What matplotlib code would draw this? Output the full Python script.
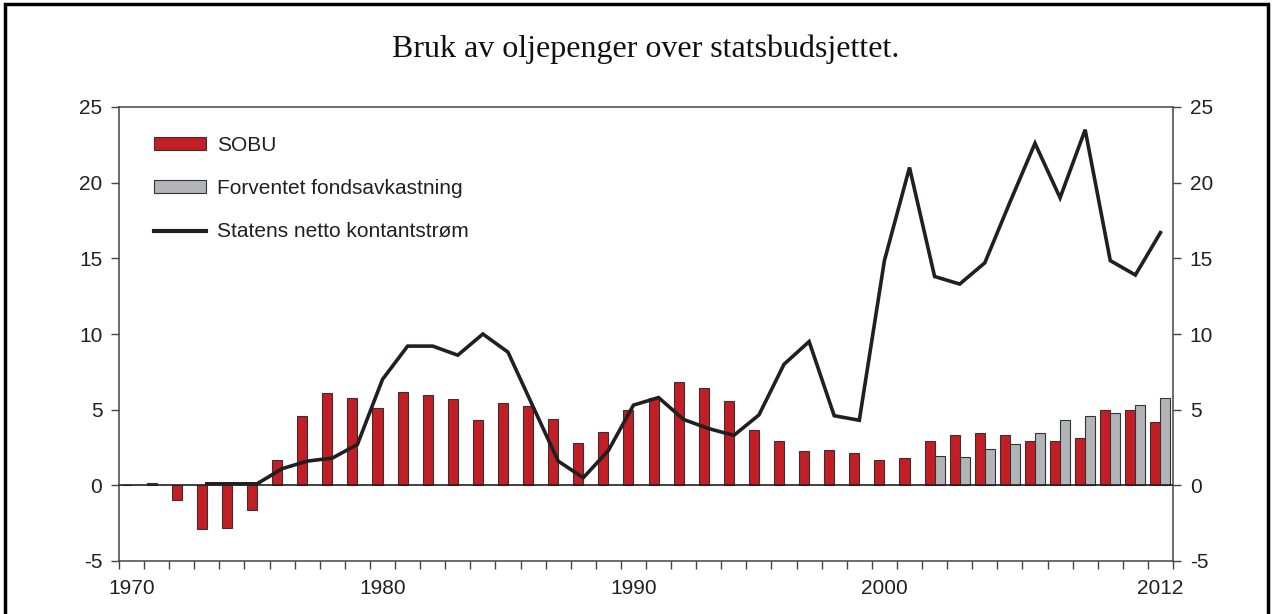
import matplotlib
matplotlib.use('Agg')
import matplotlib.pyplot as plt
import numpy as np
from matplotlib.patches import Rectangle, Patch
from matplotlib.lines import Line2D

plt.rcParams['font.family'] = ['Liberation Sans', 'DejaVu Sans']
plt.rcParams['axes.unicode_minus'] = False  # vanlig bindestrek som minus

# data: 1970-2011 (one bin per year), mrd. kr / prosent av BNP
years = list(range(1970, 2012))
tick_labels = ['1970', '1980', '1990', '2000', '2012']
tick_years = [1970, 1980, 1990, 2000, 2011]

sobu = [0.05, 0.15, -1.0, -2.9, -2.8, -1.6, 1.7, 4.6, 6.1, 5.8,
        5.1, 6.2, 6.0, 5.7, 4.3, 5.45, 5.25, 4.4, 2.8, 3.55,
        5.0, 5.75, 6.85, 6.45, 5.55, 3.65, 2.95, 2.25, 2.35, 2.15,
        1.65, 1.8, 2.95, 3.35, 3.45, 3.35, 2.95, 2.9, 3.15, 4.95,
        5.0, 4.2]
fond = [None] * 32 + [1.95, 1.85, 2.4, 2.7, 3.45, 4.3, 4.6, 4.8, 5.3, 5.8]
kontant = [None, None, None, 0.1, 0.1, 0.1, 1.1, 1.6, 1.8, 2.7,
           7.0, 9.2, 9.2, 8.6, 10.0, 8.8, 5.2, 1.6, 0.5, 2.3,
           5.3, 5.8, 4.35, 3.75, 3.3, 4.65, 8.0, 9.5, 4.6, 4.3,
           14.85, 21.0, 13.8, 13.3, 14.7, 18.7, 22.6, 19.0, 23.5, 14.85,
           13.9, 16.7]

red = '#C31E26'
grey = '#B3B4B8'
edge = '#333333'
dark = '#231F20'

x = np.arange(len(years))

fig = plt.figure(figsize=(12.75, 6.14), dpi=100)
ax = fig.add_axes([119 / 1275, 1 - 561 / 614, (1173 - 119) / 1275, (561 - 107) / 614])

ax.bar(x - 0.2, sobu, width=0.4, color=red, edgecolor=edge, linewidth=0.8, zorder=2)
fx = [i for i, v in enumerate(fond) if v is not None]
ax.bar(np.array(fx) + 0.2, [fond[i] for i in fx], width=0.4, color=grey,
       edgecolor=edge, linewidth=0.8, zorder=2)
ax.axhline(0, color=dark, lw=1.2, zorder=3)

kx = [i for i, v in enumerate(kontant) if v is not None]
ax.plot(kx, [kontant[i] for i in kx], color=dark, lw=2.6, zorder=4,
        solid_joinstyle='miter')

ax.set_xlim(-0.5, len(years) - 0.5)
ax.set_ylim(-5, 25)
ax.set_yticks(range(-5, 30, 5))

# tick marks on bin edges, labels in bin centres
ax.set_xticks(np.arange(-0.5, len(years)), labels=[])
ax.set_xticks([years.index(y) for y in tick_years], labels=tick_labels, minor=True)
ax.tick_params(axis='x', which='major', direction='out', length=6, width=1, color='#444444')
ax.tick_params(axis='x', which='minor', length=0, pad=13, labelsize=15, labelcolor='#231F20')
ax.tick_params(axis='y', direction='out', length=6, width=1, color='#444444',
               labelsize=15, labelcolor='#231F20', right=True, labelright=True, pad=6)

for s in ax.spines.values():
    s.set_color('#444444')
    s.set_linewidth(1.1)

handles = [Patch(facecolor=red, edgecolor=edge, linewidth=0.8),
           Patch(facecolor=grey, edgecolor=edge, linewidth=0.8),
           Line2D([], [], color=dark, lw=3)]
ax.legend(handles, ['SOBU', 'Forventet fondsavkastning', 'Statens netto kontantstrøm'],
          loc='upper left', bbox_to_anchor=(0.015, 0.978), frameon=False, fontsize=15,
          handlelength=2.5, handleheight=0.55, handletextpad=0.55, labelspacing=1.17,
          labelcolor='#231F20')

fig.text(646 / 1275, 1 - 49 / 614, 'Bruk av oljepenger over statsbudsjettet.',
         ha='center', va='center', fontsize=23, family='Liberation Serif', color='#111111')

fig.patches.append(Rectangle((5 / 1275, -0.1), (1268 - 5) / 1275, 1.1 - 4 / 614,
                             transform=fig.transFigure, fill=False, lw=2.5,
                             edgecolor='black'))

fig.savefig('out.png', dpi=100)
